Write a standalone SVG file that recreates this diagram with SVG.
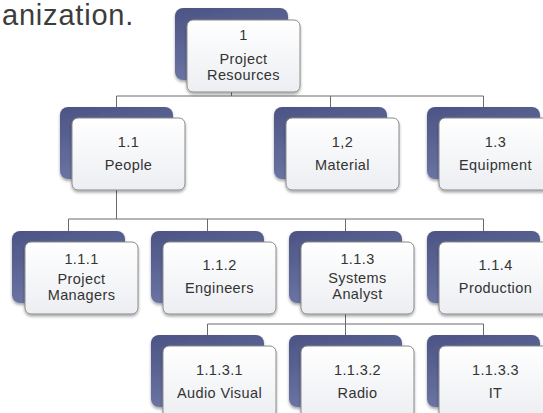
<svg xmlns="http://www.w3.org/2000/svg" width="543" height="413" viewBox="0 0 543 413">
<defs>
<linearGradient id="gBack" x1="0" y1="0" x2="0.3" y2="1">
<stop offset="0" stop-color="#4b5484"/>
<stop offset="1" stop-color="#6c76a5"/>
</linearGradient>
<linearGradient id="gFront" x1="0" y1="0" x2="0" y2="1">
<stop offset="0" stop-color="#ffffff"/>
<stop offset="1" stop-color="#eceef2"/>
</linearGradient>
<filter id="sh" x="-20%" y="-20%" width="140%" height="140%">
<feGaussianBlur in="SourceAlpha" stdDeviation="1.5"/>
<feOffset dx="0" dy="1.5" result="b"/>
<feComponentTransfer><feFuncA type="linear" slope="0.35"/></feComponentTransfer>
<feMerge><feMergeNode/><feMergeNode in="SourceGraphic"/></feMerge>
</filter>
</defs>
<style>
.back{fill:url(#gBack);filter:url(#sh)}
.front{fill:url(#gFront);stroke:#8a8a8a;stroke-width:1;filter:url(#sh)}
.t{font-family:"Liberation Sans",Arial,sans-serif;font-size:14.5px;letter-spacing:0.4px;fill:#333333;text-anchor:middle}
.c{fill:none;stroke:#6b6b6b;stroke-width:1}
.title{font-family:"Liberation Sans",Arial,sans-serif;font-size:29px;fill:#3c3c3c}
</style>
<rect width="543" height="413" fill="#ffffff"/>
<text class="title" x="2" y="25" letter-spacing="0.8">anization.</text>
<g id="connectors">
<path class="c" d="M231.5,92 V96 M116.5,96 H483.5 M116.5,96 V107 M330.5,96 V107 M483.5,96 V107"/>
<path class="c" d="M116.5,190 V219 M68.5,219 H483.5 M68.5,219 V231 M207.5,219 V231 M345.5,219 V231 M483.5,219 V231"/>
<path class="c" d="M345.5,314 V324 M207.5,324 H483.5 M207.5,324 V335 M345.5,324 V335 M483.5,324 V335"/>
</g>
<g id="n1">
<rect class="back" x="175" y="8" width="113" height="72" rx="8"/>
<rect class="front" x="187" y="20" width="113" height="72" rx="6"/>
<text class="t" x="243.5" y="40">1</text>
<text class="t" x="243.5" y="64">Project</text>
<text class="t" x="243.5" y="80">Resources</text>
</g>
<g id="n1_1">
<rect class="back" x="60" y="107" width="113" height="72" rx="8"/>
<rect class="front" x="72" y="118" width="113" height="72" rx="6"/>
<text class="t" x="128.5" y="147">1.1</text>
<text class="t" x="128.5" y="170">People</text>
</g>
<g id="n1_2">
<rect class="back" x="274" y="107" width="113" height="72" rx="8"/>
<rect class="front" x="286" y="118" width="113" height="72" rx="6"/>
<text class="t" x="342.5" y="147">1,2</text>
<text class="t" x="342.5" y="170">Material</text>
</g>
<g id="n1_3">
<rect class="back" x="427" y="107" width="113" height="72" rx="8"/>
<rect class="front" x="439" y="118" width="113" height="72" rx="6"/>
<text class="t" x="495.5" y="147">1.3</text>
<text class="t" x="495.5" y="170">Equipment</text>
</g>
<g id="n1_1_1">
<rect class="back" x="12" y="231" width="113" height="72" rx="8"/>
<rect class="front" x="25" y="242" width="113" height="72" rx="6"/>
<text class="t" x="81.5" y="264">1.1.1</text>
<text class="t" x="81.5" y="284">Project</text>
<text class="t" x="81.5" y="300">Managers</text>
</g>
<g id="n1_1_2">
<rect class="back" x="151" y="231" width="113" height="72" rx="8"/>
<rect class="front" x="163" y="242" width="113" height="72" rx="6"/>
<text class="t" x="219.5" y="270">1.1.2</text>
<text class="t" x="219.5" y="293">Engineers</text>
</g>
<g id="n1_1_3">
<rect class="back" x="289" y="231" width="113" height="72" rx="8"/>
<rect class="front" x="301" y="242" width="113" height="72" rx="6"/>
<text class="t" x="357.5" y="264">1.1.3</text>
<text class="t" x="357.5" y="283">Systems</text>
<text class="t" x="357.5" y="299">Analyst</text>
</g>
<g id="n1_1_4">
<rect class="back" x="427" y="231" width="113" height="72" rx="8"/>
<rect class="front" x="439" y="242" width="113" height="72" rx="6"/>
<text class="t" x="495.5" y="270">1.1.4</text>
<text class="t" x="495.5" y="293">Production</text>
</g>
<g id="n1_1_3_1">
<rect class="back" x="151" y="335" width="113" height="72" rx="8"/>
<rect class="front" x="163" y="346" width="113" height="72" rx="6"/>
<text class="t" x="219.5" y="375">1.1.3.1</text>
<text class="t" x="219.5" y="398">Audio Visual</text>
</g>
<g id="n1_1_3_2">
<rect class="back" x="289" y="335" width="113" height="72" rx="8"/>
<rect class="front" x="301" y="346" width="113" height="72" rx="6"/>
<text class="t" x="357.5" y="375">1.1.3.2</text>
<text class="t" x="357.5" y="398">Radio</text>
</g>
<g id="n1_1_3_3">
<rect class="back" x="427" y="335" width="113" height="72" rx="8"/>
<rect class="front" x="439" y="346" width="113" height="72" rx="6"/>
<text class="t" x="495.5" y="375">1.1.3.3</text>
<text class="t" x="495.5" y="398">IT</text>
</g>
</svg>
